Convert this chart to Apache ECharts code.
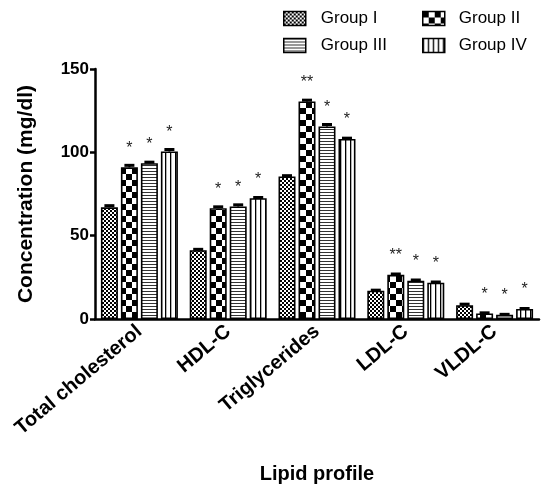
<!DOCTYPE html>
<html><head><meta charset="utf-8">
<script src="https://cdn.jsdelivr.net/npm/echarts@6/dist/echarts.min.js"></script>
<style>html,body{margin:0;padding:0;background:#fff}#c{width:551px;height:489px}</style>
</head><body><div id="c"></div>
<script>
const categories = ['Total cholesterol', 'HDL-C', 'Triglycerides', 'LDL-C', 'VLDL-C'];
const groupNames = ['Group I', 'Group II', 'Group III', 'Group IV'];
const group1 = [67, 41.3, 85.5, 17, 8.3];
const group2 = [91, 66.5, 130.5, 26.5, 3.3];
const group3 = [93.5, 67.5, 115.5, 23, 2.5];
const group4 = [100.5, 72.5, 108, 21.8, 6];
const err1 = [1, 0.5, 0.5, 0.3, 0.6];
const err2 = [1.2, 0.8, 0.8, 0.5, 0.4];
const err3 = [0.6, 1.0, 1.2, 0.4, 0.3];
const err4 = [1.2, 0.4, 0.5, 0.4, 0.3];
const sig1 = ['', '', '', '', ''];
const sig2 = ['*', '*', '**', '**', '*'];
const sig3 = ['*', '*', '*', '*', '*'];
const sig4 = ['*', '*', '*', '*', '*'];
const yTicks = [0, 50, 100, 150];

function pattern(kind) {
  const c = document.createElement('canvas');
  const ctx = c.getContext('2d');
  if (kind === 0) {
    c.width = 4; c.height = 4;
    ctx.fillStyle = '#fff'; ctx.fillRect(0, 0, 4, 4);
    ctx.fillStyle = '#000';
    ctx.fillRect(0, 0, 2, 2); ctx.fillRect(2, 2, 2, 2);
    ctx.fillRect(1, 1, 1, 1);
  } else if (kind === 1) {
    c.width = 12; c.height = 12;
    ctx.fillStyle = '#fff'; ctx.fillRect(0, 0, 12, 12);
    ctx.fillStyle = '#000';
    ctx.fillRect(0, 0, 6, 6); ctx.fillRect(6, 6, 6, 6);
  } else if (kind === 2) {
    c.width = 4; c.height = 3;
    ctx.fillStyle = '#fff'; ctx.fillRect(0, 0, 4, 3);
    ctx.fillStyle = '#333'; ctx.fillRect(0, 0, 4, 1);
  } else {
    c.width = 5; c.height = 4;
    ctx.fillStyle = '#fff'; ctx.fillRect(0, 0, 5, 4);
    ctx.fillStyle = '#000'; ctx.fillRect(0, 0, 1.3, 4);
  }
  return { image: c, repeat: 'repeat' };
}

const values = [group1, group2, group3, group4];
const errs = [err1, err2, err3, err4];
const sigs = [sig1, sig2, sig3, sig4];
const barW = 17, barGapPx = 3;

const chart = echarts.init(document.getElementById('c'), null, { renderer: 'canvas' });

const series = [];
values.forEach((vals, gi) => {
  series.push({
    name: groupNames[gi],
    type: 'bar',
    barWidth: barW,
    barGap: (barGapPx / barW * 100).toFixed(1) + '%',
    data: vals,
    itemStyle: { color: pattern(gi), borderColor: '#000', borderWidth: 1.6 },
    label: {
      show: true, position: 'top', distance: 11,
      formatter: p => sigs[gi][p.dataIndex],
      fontFamily: 'Liberation Sans', fontSize: 16, color: '#222'
    },
    z: 2
  });
});
values.forEach((vals, gi) => {
  series.push({
    type: 'custom',
    name: 'err' + gi,
    data: vals.map((v, i) => [i, v, errs[gi][i]]),
    z: 5,
    renderItem: function (params, api) {
      const i = api.value(0), v = api.value(1), e = api.value(2);
      const p0 = api.coord([i, v]);
      const p1 = api.coord([i, v + e]);
      const off = (gi - 1.5) * (barW + barGapPx);
      const x = p0[0] + off;
      return {
        type: 'group', children: [
          { type: 'line', shape: { x1: x, y1: p0[1], x2: x, y2: p1[1] }, style: { stroke: '#000', lineWidth: 2 } },
          { type: 'rect', shape: { x: x - 5, y: p1[1] - 1.5, width: 10, height: 3 }, style: { fill: '#000' } }
        ]
      };
    }
  });
});

const legendPos = [[283, 10], [422, 10], [283, 37], [422, 37]];
const legends = groupNames.map((n, i) => ({
  data: [n], left: legendPos[i][0], top: legendPos[i][1],
  itemWidth: 22, itemHeight: 14, itemGap: 0, padding: 0,
  icon: 'rect',
  textStyle: { fontFamily: 'Liberation Sans', fontSize: 17, color: '#000', padding: [0, 0, 0, i % 2 === 0 ? 10 : 9] },
  itemStyle: { borderColor: '#000', borderWidth: 1.5 },
  selectedMode: false
}));

chart.setOption({
  animation: false,
  backgroundColor: '#fff',
  legend: legends,
  grid: { left: 95, right: 12, top: 69, bottom: 168, containLabel: false },
  xAxis: {
    type: 'category', data: categories,
    name: 'Lipid profile', nameLocation: 'middle', nameGap: 145,
    nameTextStyle: { fontFamily: 'Liberation Sans', fontWeight: 'bold', fontSize: 20, color: '#000' },
    axisLine: { lineStyle: { color: '#000', width: 2.5 } },
    axisTick: { alignWithLabel: true, length: 5, lineStyle: { color: '#000', width: 2.5 } },
    axisLabel: { rotate: 40, margin: 10, interval: 0, fontFamily: 'Liberation Sans', fontWeight: 'bold', fontSize: 20, color: '#000' }
  },
  yAxis: {
    type: 'value', min: 0, max: 150, interval: 50,
    name: 'Concentration (mg/dl)', nameLocation: 'middle', nameGap: 58,
    nameTextStyle: { fontFamily: 'Liberation Sans', fontWeight: 'bold', fontSize: 21, color: '#000' },
    axisLine: { show: true, lineStyle: { color: '#000', width: 2.5 } },
    axisTick: { show: true, length: 5, lineStyle: { color: '#000', width: 2.5 } },
    splitLine: { show: false },
    axisLabel: { margin: 6, fontFamily: 'Liberation Sans', fontWeight: 'bold', fontSize: 17, color: '#000',
      formatter: v => yTicks.indexOf(v) >= 0 ? String(v) : '' }
  },
  series: series
});
</script></body></html>
